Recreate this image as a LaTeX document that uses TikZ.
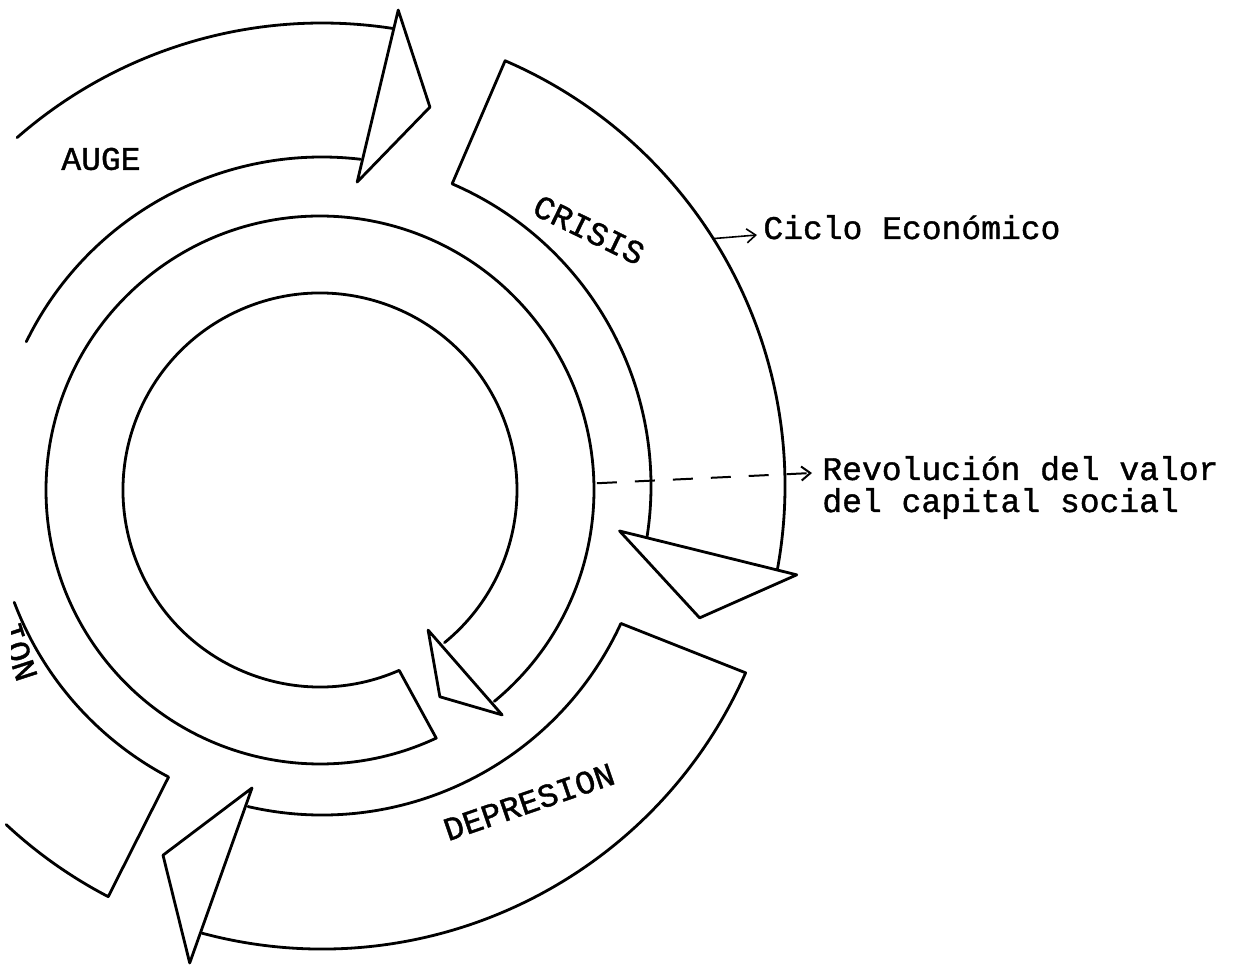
\documentclass[tikz,border=0pt]{standalone}
\usepackage{fontspec}
\newfontfamily\twfont{Liberation Mono}[FakeBold=1.2]
\usetikzlibrary{arrows.meta}
\begin{document}
\begin{tikzpicture}[x=0.5pt,y=0.5pt,
  edge/.style={line width=1.4pt, line join=round, line cap=round},
  lbl/.style={font=\twfont\fontsize{16.5}{20}\selectfont, inner sep=0pt},
  conn/.style={line width=0.8pt, -{Straight Barb[length=4.5pt,width=7pt]}},
  dconn/.style={line width=1pt, dash pattern=on 10pt off 9pt, -{Straight Barb[length=4.5pt,width=7pt]}}]
\useasboundingbox (0,0) rectangle (1233,965);
\coordinate (O) at (322,479);
\coordinate (Q) at (320,475);

% ---- outer ring (economic cycle) ----
\begin{scope}[shift={(O)}]
  % AUGE
  \draw[edge] (131.2:463) arc[start angle=131.2, end angle=81.2, radius=463];
  \draw[edge] (154:329) arc[start angle=154, end angle=83.3, radius=329];
  \draw[edge] (80.9:482) -- (74.1:394) -- (83.4:306) -- cycle;
  % CRISIS
  \draw[edge] (-10.35:463) arc[start angle=-10.35, end angle=66.7, radius=463]
     -- (66.7:329) arc[start angle=66.7, end angle=-8.9, radius=329];
  \draw[edge] (-10.6:483) -- (-19.25:400) -- (-8.6:301) -- cycle;
  % DEPRESION
  \draw[edge] (-105:463) arc[start angle=-105, end angle=-23.8, radius=463]
     -- (-24.7:329) arc[start angle=-24.7, end angle=-103, radius=329];
  \draw[edge] (-103.05:310) -- (-113.3:402) -- (-105.5:495) -- cycle;
  % left segment
  \draw[edge] (-133:463) arc[start angle=-133, end angle=-117.5, radius=463]
     -- (-117.8:329) arc[start angle=-117.8, end angle=-159.3, radius=329];
  \coordinate (cs) at (32.3:463);
\end{scope}

% ---- inner ring (revolution of the value of social capital) ----
\begin{scope}[shift={(Q)}]
  \draw[edge] (-50.5:274) arc[start angle=-50.5, end angle=295.1, radius=274]
     -- (293.7:197) arc[start angle=293.7, end angle=-50.8, radius=197];
  \draw[edge] (-52.35:177) -- (-59.9:239) -- (-51:289.4) -- cycle;
  \coordinate (rs) at (1.4:277);
\end{scope}

% ---- labels ----
\node[lbl] (auge) at (101,806) {AUGE};
\node[lbl, rotate=-26] (crisis) at (589,735) {CRISIS};
\node[lbl, rotate=19] (depresion) at (529,163) {DEPRESION};
\begin{scope}
  \clip (11,0) rectangle (1233,965);
  \node[lbl, rotate=-72, anchor=base east] (cion) at (17.5,281.5) {ION};
\end{scope}
\node[lbl, anchor=base west] (ciclo) at (763,726) {Ciclo Económico};
\node[lbl, anchor=base west] (rev1) at (822,485) {Revolución del valor};
\node[lbl, anchor=base west] (rev2) at (822,453) {del capital social};

% ---- connectors ----
\draw[conn] (cs) -- ([xshift=-3pt,yshift=2pt]ciclo.base west);
\draw[dconn] (rs) -- ([xshift=-5pt,yshift=3.5pt]rev1.base west);
\end{tikzpicture}
\end{document}
